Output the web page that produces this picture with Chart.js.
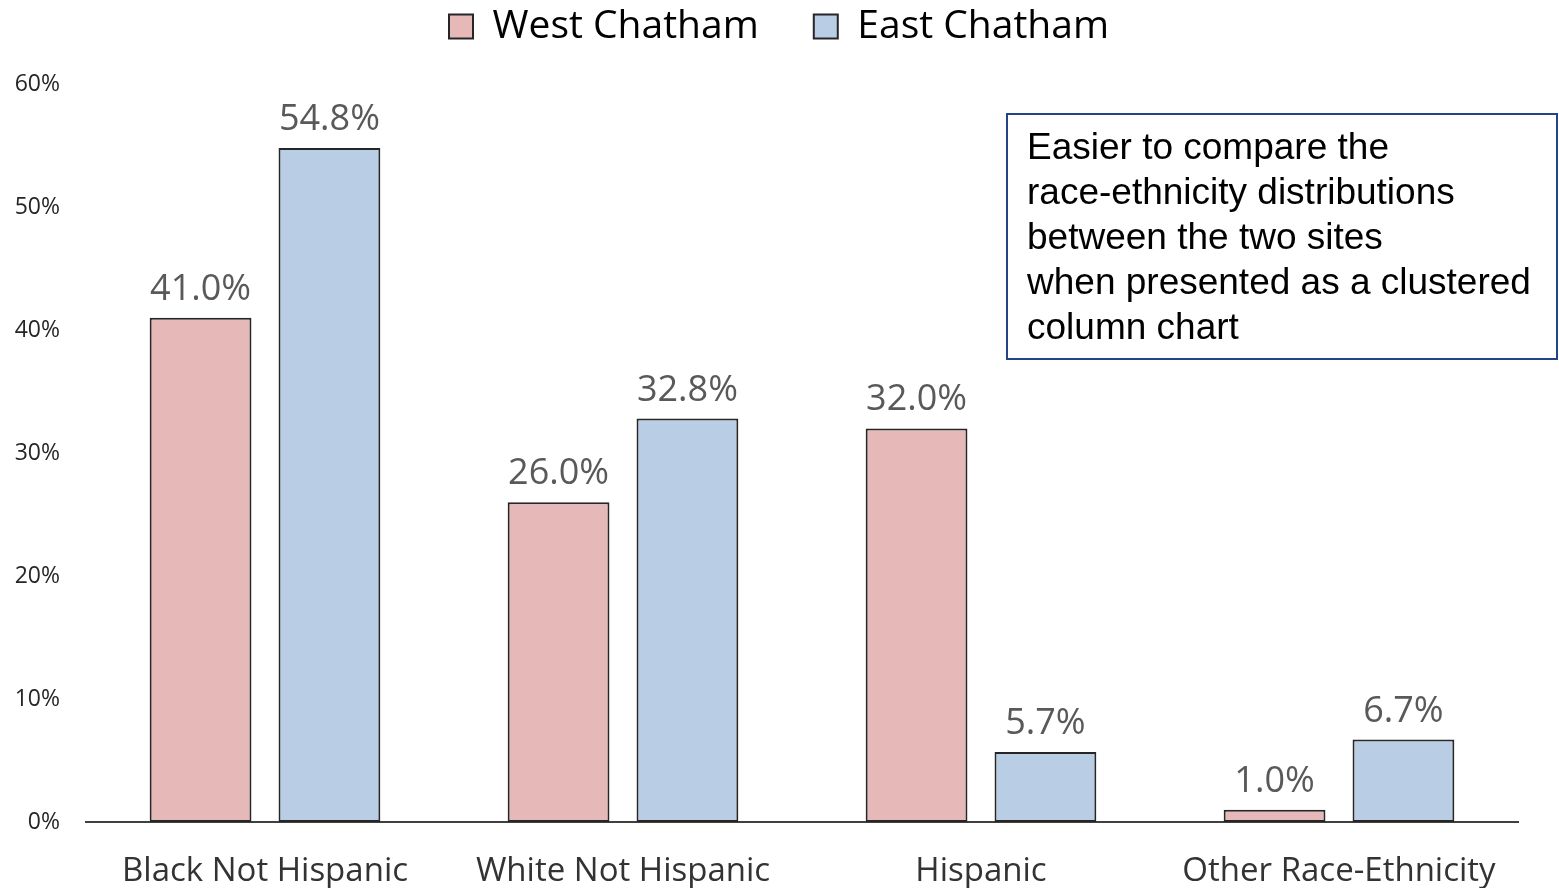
<!DOCTYPE html>
<html>
<head>
<meta charset="utf-8">
<script src="https://cdn.jsdelivr.net/npm/chart.js@4/dist/chart.umd.min.js"></script>
<style>
html,body{margin:0;padding:0;background:#fff;}
#wrap{width:1559px;height:888px;position:relative;}
</style>
</head>
<body>
<div id="wrap"><canvas id="c" width="1559" height="888"></canvas></div>
<script>
const categories = ["Black Not Hispanic", "White Not Hispanic", "Hispanic", "Other Race-Ethnicity"];
const westChatham = [41.0, 26.0, 32.0, 1.0];
const eastChatham = [54.8, 32.8, 5.7, 6.7];
const seriesNames = ["West Chatham", "East Chatham"];
const yTicks = [0, 10, 20, 30, 40, 50, 60];
const noteLines = ["Easier to compare the", "race-ethnicity distributions", "between the two sites", "when presented as a clustered", "column chart"];

const FONT = "'Open Sans', 'DejaVu Sans', sans-serif";
const LEGEND_H = 84;
const LEGEND_SHIFT = 48;
const LEGEND_XSHIFT = 20;

const legendTweak = {
  id: 'legendTweak',
  beforeLayout(chart) {
    const lg = chart.legend;
    if (lg && !lg._patched) {
      const orig = lg.fit;
      lg.fit = function () { orig.call(this); this.height = LEGEND_H; };
      lg._patched = true;
    }
  },
  afterLayout(chart) {
    const lg = chart.legend;
    if (lg) {
      lg.top -= LEGEND_SHIFT;
      lg.height += LEGEND_SHIFT;
      lg.left += LEGEND_XSHIFT;
      lg.right += LEGEND_XSHIFT;
    }
  }
};

const labelPlugin = {
  id: 'valueLabels',
  afterDatasetsDraw(chart) {
    const ctx = chart.ctx;
    ctx.save();
    ctx.font = "36px " + FONT;
    ctx.fillStyle = "#595959";
    ctx.textAlign = "center";
    ctx.textBaseline = "alphabetic";
    chart.data.datasets.forEach((ds, di) => {
      const meta = chart.getDatasetMeta(di);
      meta.data.forEach((bar, i) => {
        ctx.fillText(ds.data[i].toFixed(1) + "%", bar.x, bar.y - 18);
      });
    });
    ctx.restore();
  }
};

const notePlugin = {
  id: 'noteBox',
  afterDraw(chart) {
    const ctx = chart.ctx;
    ctx.save();
    ctx.strokeStyle = "#24448A";
    ctx.lineWidth = 2;
    ctx.strokeRect(1007, 114, 550, 245);
    ctx.font = "37px 'Liberation Sans', Arial, sans-serif";
    ctx.fillStyle = "#000";
    ctx.textAlign = "left";
    ctx.textBaseline = "middle";
    noteLines.forEach((t, i) => ctx.fillText(t, 1027, 149 + i * 45));
    ctx.restore();
  }
};

new Chart(document.getElementById('c'), {
  type: 'bar',
  data: {
    labels: categories,
    datasets: [
      { label: seriesNames[0], data: westChatham, backgroundColor: "#E6B9B8", borderColor: "#262626", borderWidth: 2, borderSkipped: false, categoryPercentage: 0.72, barPercentage: 0.79 },
      { label: seriesNames[1], data: eastChatham, backgroundColor: "#B9CDE5", borderColor: "#262626", borderWidth: 2, borderSkipped: false, categoryPercentage: 0.72, barPercentage: 0.79 }
    ]
  },
  options: {
    responsive: false,
    animation: false,
    devicePixelRatio: 1,
    layout: { padding: { left: 0, right: 41, top: 0, bottom: 0 } },
    plugins: {
      legend: {
        position: 'top',
        labels: {
          font: { size: 39, family: FONT },
          color: "#222",
          boxWidth: 24,
          boxHeight: 24,
          padding: 55,
          generateLabels(chart) {
            return chart.data.datasets.map((ds, i) => ({
              text: ds.label, fillStyle: ds.backgroundColor, strokeStyle: "#262626", lineWidth: 2, datasetIndex: i, hidden: false
            }));
          }
        }
      },
      tooltip: { enabled: false }
    },
    scales: {
      x: {
        grid: { display: false, drawTicks: false },
        border: { display: true, color: "#404040", width: 2 },
        ticks: { font: { size: 33, family: FONT }, color: "#333", padding: 30, maxRotation: 0 },
        afterFit(scale) { scale.height = 66; }
      },
      y: {
        min: 0, max: 60,
        afterBuildTicks(scale) { scale.ticks = yTicks.map(v => ({ value: v })); },
        grid: { display: false, drawTicks: false },
        border: { display: false },
        ticks: { font: { size: 23, family: FONT }, color: "#262626", padding: 26, callback: v => v + "%" },
        afterFit(scale) { scale.width = 86; }
      }
    }
  },
  plugins: [legendTweak, labelPlugin, notePlugin]
});
</script>
</body>
</html>
